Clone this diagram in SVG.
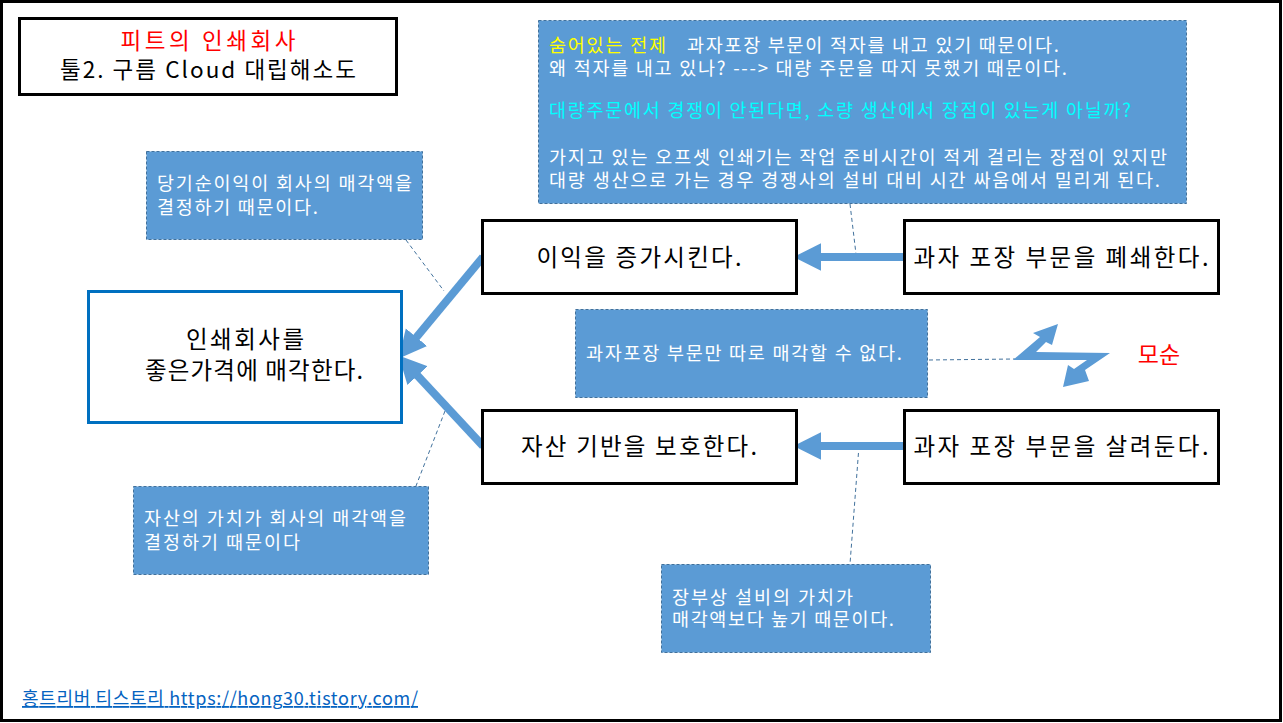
<svg xmlns="http://www.w3.org/2000/svg" width="1283" height="723" viewBox="0 0 1283 723">
<style>
text{font-family:"Noto Sans CJK KR","Noto Sans",sans-serif}
.box{fill:#fff;stroke:#000;stroke-width:3}
.note{fill:#5B9BD5;stroke:#41719C;stroke-width:1;stroke-dasharray:3 2}
.big{font-size:23.5px;fill:#000}
.nt{font-size:18.5px;fill:#fff}
.arrow{stroke:#5B9BD5;stroke-width:8;fill:none}
.dash{stroke:#41719C;stroke-width:1;stroke-dasharray:4 3;fill:none}
</style>
<defs>
<marker id="ah" markerUnits="userSpaceOnUse" markerWidth="30" markerHeight="30" viewBox="0 -13 26 26" refX="2" refY="0" orient="auto">
<path d="M0,-12 L24,0 L0,12 Z" fill="#5B9BD5"/>
</marker>
</defs>
<rect x="0" y="0" width="1283" height="723" fill="#fff"/>
<rect x="1.5" y="1.5" width="1279" height="719" fill="none" stroke="#000" stroke-width="3"/>

<g id="connectors">
<line class="dash" x1="850" y1="204" x2="856" y2="254"/>
<line class="dash" x1="859" y1="446" x2="850" y2="564"/>
<line class="dash" x1="406" y1="240" x2="444" y2="291"/>
<line class="dash" x1="445" y1="411" x2="416" y2="486"/>
<line class="dash" x1="929" y1="360" x2="1015" y2="359"/>
<line class="arrow" x1="483" y1="257" x2="415" y2="339" marker-end="url(#ah)"/>
<line class="arrow" x1="483" y1="446" x2="416" y2="374" marker-end="url(#ah)"/>
<line class="arrow" x1="904" y1="257" x2="819" y2="257" marker-end="url(#ah)"/>
<line class="arrow" x1="904" y1="446" x2="819" y2="446" marker-end="url(#ah)"/>
</g>

<g id="title">
<rect x="19.5" y="18.5" width="377" height="76" fill="#fff" stroke="#000" stroke-width="3"/>
<text x="208" y="49" text-anchor="middle" font-size="22.5" fill="#FF0000" textLength="175" lengthAdjust="spacing">피트의 인쇄회사</text>
<text x="208" y="78" text-anchor="middle" font-size="22.5" fill="#000" textLength="296" lengthAdjust="spacing">툴2. 구름 Cloud 대립해소도</text>
</g>

<g id="note-premise">
<rect class="note" x="538.5" y="20.5" width="648" height="183"/>
<text class="nt" x="549" y="52" style="fill:#FFFF00" textLength="117" lengthAdjust="spacing">숨어있는 전제</text>
<text class="nt" x="687" y="52" textLength="372" lengthAdjust="spacing">과자포장 부문이 적자를 내고 있기 때문이다.</text>
<text class="nt" x="549" y="75" textLength="518" lengthAdjust="spacing">왜 적자를 내고 있나? ---&gt; 대량 주문을 따지 못했기 때문이다.</text>
<text class="nt" x="549" y="117" style="fill:#00FFFF" textLength="582" lengthAdjust="spacing">대량주문에서 경쟁이 안된다면, 소량 생산에서 장점이 있는게 아닐까?</text>
<text class="nt" x="549" y="164" textLength="618" lengthAdjust="spacing">가지고 있는 오프셋 인쇄기는 작업 준비시간이 적게 걸리는 장점이 있지만</text>
<text class="nt" x="549" y="187" textLength="611" lengthAdjust="spacing">대량 생산으로 가는 경우 경쟁사의 설비 대비 시간 싸움에서 밀리게 된다.</text>
</g>

<g id="note-profit">
<rect class="note" x="146.5" y="151.5" width="276" height="88"/>
<text class="nt" x="157" y="190" textLength="255" lengthAdjust="spacing">당기순이익이 회사의 매각액을</text>
<text class="nt" x="157" y="214" textLength="161" lengthAdjust="spacing">결정하기 때문이다.</text>
</g>

<g id="goal">
<rect x="88.5" y="291.5" width="313" height="131" fill="#fff" stroke="#0070C0" stroke-width="3"/>
<text class="big" x="245" y="348" text-anchor="middle" textLength="118" lengthAdjust="spacing">인쇄회사를</text>
<text class="big" x="254" y="379" text-anchor="middle" textLength="218" lengthAdjust="spacing">좋은가격에 매각한다.</text>
</g>

<g id="req-profit">
<rect class="box" x="482.5" y="220.5" width="314" height="73"/>
<text class="big" x="639" y="266" text-anchor="middle" textLength="205" lengthAdjust="spacing">이익을 증가시킨다.</text>
</g>

<g id="pre-close">
<rect class="box" x="904.5" y="220.5" width="314" height="73"/>
<text class="big" x="1061" y="266" text-anchor="middle" textLength="295" lengthAdjust="spacing">과자 포장 부문을 폐쇄한다.</text>
</g>

<g id="note-conflict">
<rect class="note" x="575.5" y="309.5" width="352" height="88"/>
<text class="nt" x="586" y="360" textLength="316" lengthAdjust="spacing">과자포장 부문만 따로 매각할 수 없다.</text>
</g>

<g id="conflict">
<polygon points="1013,360 1040,337 1033,333 1058,324 1052,345 1046,342 1036,352 1110,353 1085,370 1089,381 1063,387 1068,365 1074,369 1087,360" fill="#5B9BD5"/>
<text x="1159" y="363" text-anchor="middle" font-size="23" fill="#FF0000">모순</text>
</g>

<g id="req-asset">
<rect class="box" x="482.5" y="410.5" width="314" height="73"/>
<text class="big" x="639" y="455" text-anchor="middle" textLength="236" lengthAdjust="spacing">자산 기반을 보호한다.</text>
</g>

<g id="pre-keep">
<rect class="box" x="904.5" y="410.5" width="314" height="73"/>
<text class="big" x="1061" y="455" text-anchor="middle" textLength="295" lengthAdjust="spacing">과자 포장 부문을 살려둔다.</text>
</g>

<g id="note-asset">
<rect class="note" x="133.5" y="486.5" width="295" height="88"/>
<text class="nt" x="144" y="525" textLength="262" lengthAdjust="spacing">자산의 가치가 회사의 매각액을</text>
<text class="nt" x="144" y="549" textLength="156" lengthAdjust="spacing">결정하기 때문이다</text>
</g>

<g id="note-book">
<rect class="note" x="661.5" y="564.5" width="269" height="88"/>
<text class="nt" x="672" y="604" textLength="181" lengthAdjust="spacing">장부상 설비의 가치가</text>
<text class="nt" x="672" y="626" textLength="222" lengthAdjust="spacing">매각액보다 높기 때문이다.</text>
</g>

<g id="footer">
<text x="22" y="705" font-size="18" fill="#0563C1" text-decoration="underline" textLength="396" lengthAdjust="spacing">홍트리버 티스토리 https://hong30.tistory.com/</text>
</g>
</svg>
